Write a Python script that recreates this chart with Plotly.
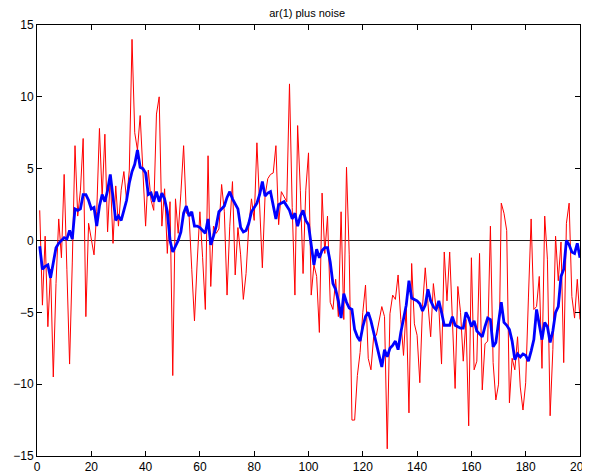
import plotly.graph_objects as go

x_vals = list(range(1, 201))

noisy_obs = [
    2.1, -4.5, 0.3, -6.0, -2.0, -9.5, -3.0, 1.5, -1.2, 4.6,
    -2.0, -8.6, -1.5, 6.6, 1.7, 3.5, 7.1, -5.3, 1.2, 0.0,
    -1.0, 2.0, 7.8, 3.0, 7.4, 0.6, 4.5, -0.2, 3.8, 1.0,
    3.5, 4.8, 2.8, 4.9, 14.0, 7.5, 6.3, 8.7, 4.7, 1.0,
    4.9, 2.8, 2.1, 8.8, 10.0, 1.0, 3.6, -0.9, 2.7, -9.4,
    2.9, 0.5, 3.3, 6.6, 1.9, 1.8, -2.0, -5.6, -1.5, 2.0,
    -1.2, -4.8, 5.9, -3.2, 1.0, 0.5, 0.8, 3.9, 2.0, -3.8,
    1.0, 4.1, -2.4, 0.9, -1.0, -4.1, -2.3, 1.0, 2.9, 1.4,
    6.8, 2.3, -1.9, 3.1, 4.3, 4.6, 4.7, 6.6, 1.1, 3.4,
    3.0, 2.7, 10.9, 2.3, -3.8, 8.0, 3.5, -2.3, 3.5, 6.1,
    -3.8, -1.7, -2.5, -6.4, 3.3, -0.9, 1.7, -4.3, -4.8, -2.7,
    -5.3, 2.0, -5.5, 5.1, -1.0, -12.5, -12.5, -9.4, -7.8, -5.0,
    -3.1, -8.2, -9.0, -6.7, -6.6, -5.5, -4.6, -5.3, -14.5, -5.1,
    -3.8, -4.1, -2.4, -5.5, -8.0, -4.6, -12.0, -1.6, -5.8, -6.6,
    -9.9, -4.6, -1.9, -4.4, -6.7, -3.0, -4.8, -4.6, -8.6, -0.8,
    -4.2, -0.8, -6.0, -10.3, -3.2, -5.0, -8.4, -5.5, -12.9, -1.2,
    -9.0, -8.4, -0.9, -10.4, -7.2, -7.0, 1.0, -8.5, -11.1, -10.0,
    2.6, 1.9, 0.7, -11.3, -8.2, -9.0, -6.7, -10.2, -11.8, -9.9,
    -4.0, 1.5, -4.8, -4.6, -2.5, -8.9, 1.7, -1.3, -12.2, -7.6,
    0.3, -2.8, -0.1, -8.5, 1.2, 2.6, -3.9, -5.4, -2.7, -5.5,
]

ar1_state = [
    -0.4, -2.0, -1.8, -1.7, -2.6, -1.5, -0.5, -0.2, 0.0, 0.2,
    0.1, 0.7, 0.1, 2.2, 2.1, 2.2, 3.2, 3.2, 2.8, 2.2,
    2.3, 1.0, 2.4, 3.2, 2.7, 3.5, 4.6, 3.0, 1.4, 1.7,
    1.4, 2.1, 2.8, 4.0, 4.8, 5.3, 6.3, 5.1, 5.0, 4.7,
    3.2, 3.3, 2.7, 3.4, 2.7, 3.3, 2.9, 2.0, 0.0, -0.8,
    -0.4, 0.0, 0.6, 1.9, 2.4, 1.7, 2.0, 1.0, 1.0, 0.9,
    0.7, 0.5, 1.5, -0.3, 0.3, 1.0, 2.0, 2.2, 2.4, 3.0,
    3.4, 2.9, 2.5, 2.2, 0.9, 0.6, 0.7, 1.2, 2.0, 2.3,
    2.6, 3.2, 4.1, 3.1, 3.3, 3.4, 2.5, 1.5, 2.5, 2.6,
    2.7, 2.4, 2.1, 1.5, 1.9, 1.0, 1.7, 2.1, 1.4, 1.1,
    -0.5, -1.7, -0.6, -1.2, -0.7, -0.5, -0.5, -1.5, -3.0, -3.4,
    -4.2, -5.4, -3.7, -4.3, -4.7, -4.8, -6.2, -6.7, -7.0, -6.0,
    -5.3, -5.0, -5.6, -6.4, -7.2, -7.8, -8.8, -7.6, -8.1, -7.5,
    -7.3, -7.0, -7.6, -6.4, -5.5, -4.5, -2.8, -4.0, -4.1, -4.2,
    -4.4, -4.9, -4.5, -3.4, -4.2, -4.6, -4.8, -4.2, -5.0, -5.9,
    -5.9, -5.9, -5.3, -5.9, -6.0, -6.1, -6.1, -5.0, -5.4, -6.0,
    -5.6, -6.3, -6.5, -6.7, -6.0, -5.4, -5.5, -7.4, -7.1, -5.5,
    -4.3, -5.7, -5.9, -6.2, -7.0, -8.3, -7.9, -8.1, -7.9, -8.0,
    -8.4, -7.7, -6.9, -4.8, -5.9, -6.9, -5.7, -6.0, -7.1, -6.3,
    -5.0, -4.6, -2.5, -2.0, 0.0, -0.3, -0.8, -0.9, -0.2, -1.2,
]

x_ticks = [0, 20, 40, 60, 80, 100, 120, 140, 160, 180, 200]
y_ticks = [-15, -10, -5, 0, 5, 10, 15]
title_text = "ar(1) plus noise"

fig = go.Figure()
fig.add_trace(go.Scatter(x=x_vals, y=noisy_obs, mode="lines",
                         line=dict(color="#ff0000", width=1), showlegend=False))
fig.add_trace(go.Scatter(x=x_vals, y=ar1_state, mode="lines",
                         line=dict(color="#0000ff", width=2.8), showlegend=False))

axis_common = dict(showgrid=False, ticks="inside", ticklen=5, tickcolor="black",
                   showline=True, linecolor="black", linewidth=1, mirror="ticks",
                   automargin=False, ticklabeloverflow="allow",
                   tickfont=dict(family="Liberation Sans, Arial, sans-serif", size=12, color="black"))

fig.update_xaxes(range=[0, 200], tickvals=x_ticks, zeroline=False,
                 ticklabelstandoff=0, **axis_common)
fig.update_yaxes(range=[-15, 15], tickvals=y_ticks, zeroline=True,
                 zerolinecolor="#222222", zerolinewidth=1,
                 ticklabelstandoff=0, **axis_common)

# The page body adds an 8 px offset, so the figure is sized to end at the window edge.
fig.update_layout(
    width=582, height=466,
    margin=dict(l=29, r=10, t=17, b=18, autoexpand=False),
    paper_bgcolor="white", plot_bgcolor="white",
    title=dict(text=title_text, x=0.514, xanchor="center", y=0.989, yanchor="middle",
               font=dict(family="Liberation Sans, Arial, sans-serif", size=11, color="black")),
)

fig.write_html("out.html")
